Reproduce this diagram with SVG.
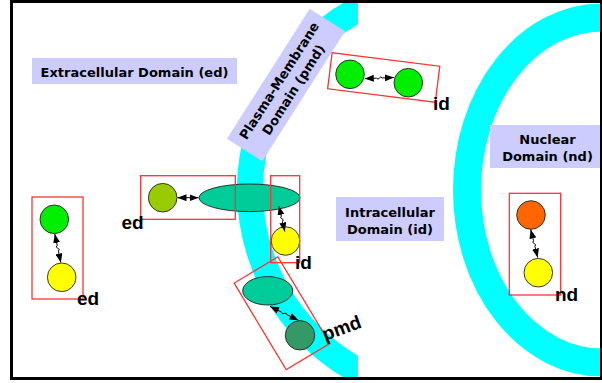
<svg xmlns="http://www.w3.org/2000/svg" width="602" height="383" viewBox="0 0 602 383">
  <style>
    .band { fill: none; stroke: #00ffff; }
    .domain { fill: #ccccff; }
    .dtext { font-family: "DejaVu Sans", Verdana, sans-serif; font-weight: bold; font-size: 13px; fill: #000; text-anchor: middle; }
    .tag { font-family: "Liberation Sans", Arial, sans-serif; font-weight: bold; font-size: 19px; fill: #000; }
    .box { fill: none; stroke: #ff3333; stroke-width: 1.3; }
    .mol { stroke: #222; stroke-width: 0.9; }
    .link { fill: none; stroke: #000; stroke-width: 1; marker-start: url(#head); marker-end: url(#head); }
  </style>
  <defs>
    <marker id="head" markerUnits="userSpaceOnUse" markerWidth="9" markerHeight="7" refX="9" refY="3.5" orient="auto-start-reverse">
      <path d="M0,0 L9,3.5 L0,7 z" fill="#000"/>
    </marker>
    <clipPath id="inside"><rect x="11.5" y="1.5" width="590" height="377"/></clipPath>
    <clipPath id="pmCut"><rect x="11.5" y="1.5" width="346.5" height="377"/></clipPath>
  </defs>

  <rect width="602" height="383" fill="#fff"/>

  <!-- membranes -->
  <g id="plasma-membrane">
    <circle class="band" cx="455" cy="190" r="205" stroke-width="26" clip-path="url(#pmCut)"/>
  </g>
  <g id="nuclear-envelope" clip-path="url(#inside)">
    <ellipse class="band" cx="602" cy="190" rx="135" ry="172.5" stroke-width="28"/>
  </g>

  <!-- domain labels -->
  <g id="extracellular-domain">
    <rect class="domain" x="32" y="58" width="205" height="26"/>
    <text class="dtext" x="134.5" y="77">Extracellular Domain (ed)</text>
  </g>
  <g id="plasma-membrane-domain" transform="translate(286,85) rotate(-57.5)">
    <rect class="domain" x="-77" y="-21" width="154" height="42"/>
    <text class="dtext" x="0" y="-3.5">Plasma-Membrane</text>
    <text class="dtext" x="0" y="13.5">Domain (pmd)</text>
  </g>
  <g id="intracellular-domain">
    <rect class="domain" x="336" y="197" width="108" height="44"/>
    <text class="dtext" x="390" y="217">Intracellular</text>
    <text class="dtext" x="390" y="234">Domain (id)</text>
  </g>
  <g id="nuclear-domain">
    <rect class="domain" x="490" y="125" width="116" height="43"/>
    <text class="dtext" x="547.5" y="144">Nuclear</text>
    <text class="dtext" x="547.5" y="161">Domain (nd)</text>
  </g>

  <!-- interaction in the extracellular space -->
  <g id="ed-pair">
    <rect class="box" x="32" y="197" width="51" height="102"/>
    <circle class="mol" cx="54.3" cy="219.3" r="14.3" fill="#00ee00"/>
    <circle class="mol" cx="61.7" cy="277.3" r="14.3" fill="#ffff00"/>
    <text class="tag" x="77" y="305">ed</text>
  </g>

  <!-- ligand binding the receptor -->
  <g id="ed-receptor">
    <ellipse class="mol" cx="249.5" cy="197.8" rx="50.5" ry="13.8" fill="#00cc99"/>
    <circle class="mol" cx="162.7" cy="197.7" r="14.3" fill="#99cc00"/>
    <rect class="box" x="140.7" y="175.7" width="94.6" height="43.6"/>
    <text class="tag" x="121.5" y="229">ed</text>
  </g>

  <!-- receptor tail meeting a cytoplasmic partner -->
  <g id="id-receptor">
    <circle class="mol" cx="285.5" cy="241" r="14.3" fill="#ffff00"/>
    <rect class="box" x="270.7" y="175.7" width="29" height="87"/>
    <text class="tag" x="295" y="269">id</text>
  </g>

  <!-- cytoplasmic pair -->
  <g id="id-pair">
    <circle class="mol" cx="350" cy="74.3" r="14.3" fill="#00ee00"/>
    <circle class="mol" cx="408.3" cy="82.7" r="14.3" fill="#00ee00"/>
    <rect class="box" x="-54.25" y="-18.15" width="108.5" height="36.3" transform="translate(383.7,77.5) rotate(7.1)"/>
    <text class="tag" x="433" y="110">id</text>
  </g>

  <!-- pair within the membrane -->
  <g id="pmd-pair">
    <ellipse class="mol" cx="267.7" cy="290.8" rx="25" ry="14.2" fill="#00cc99"/>
    <circle class="mol" cx="300" cy="335.3" r="14.7" fill="#339966"/>
    <rect class="box" x="-25.5" y="-50.5" width="51" height="101" transform="translate(282,313.3) rotate(-31)"/>
    <text class="tag" x="325" y="341" transform="rotate(-20 325 341)">pmd</text>
  </g>

  <!-- nuclear pair -->
  <g id="nd-pair">
    <rect class="box" x="509.3" y="193.3" width="51.4" height="101.7"/>
    <circle class="mol" cx="531" cy="215" r="14.3" fill="#ff6600"/>
    <circle class="mol" cx="538.3" cy="272.7" r="14.3" fill="#ffff00"/>
    <text class="tag" x="555" y="301">nd</text>
  </g>

  <!-- two-way interactions -->
  <g id="connectors">
    <path class="link" d="M54.8,234 L57.2,245.4 Q55.05,247.3 57.8,248.25 Q60.55,249.2 58.4,251.1 L60.8,262.5"/>
    <path class="link" d="M177.5,197.7 L198.5,197.7"/>
    <path class="link" d="M279,206 L281.32,216.2 Q279.46,217.97 281.9,218.75 Q284.34,219.54 282.48,221.3 L284.8,231.5"/>
    <path class="link" d="M364.8,78.6 L376.5,78.16 Q378.03,80.3 379.4,78.05 Q380.77,75.8 382.3,77.94 L394,77.5"/>
    <path class="link" d="M530.7,229.5 L533.5,240.7 Q531.72,242.63 534.2,243.5 Q536.68,244.37 534.9,246.3 L537.7,257.5"/>
    <path class="link" d="M270,306.5 L281.4,312.02 Q281.87,314.69 284.25,313.4 Q286.64,312.11 287.1,314.78 L298.5,320.3"/>
  </g>

  <!-- outer frame -->
  <rect x="11.5" y="1.5" width="590" height="377" fill="none" stroke="#000" stroke-width="3"/>
</svg>
